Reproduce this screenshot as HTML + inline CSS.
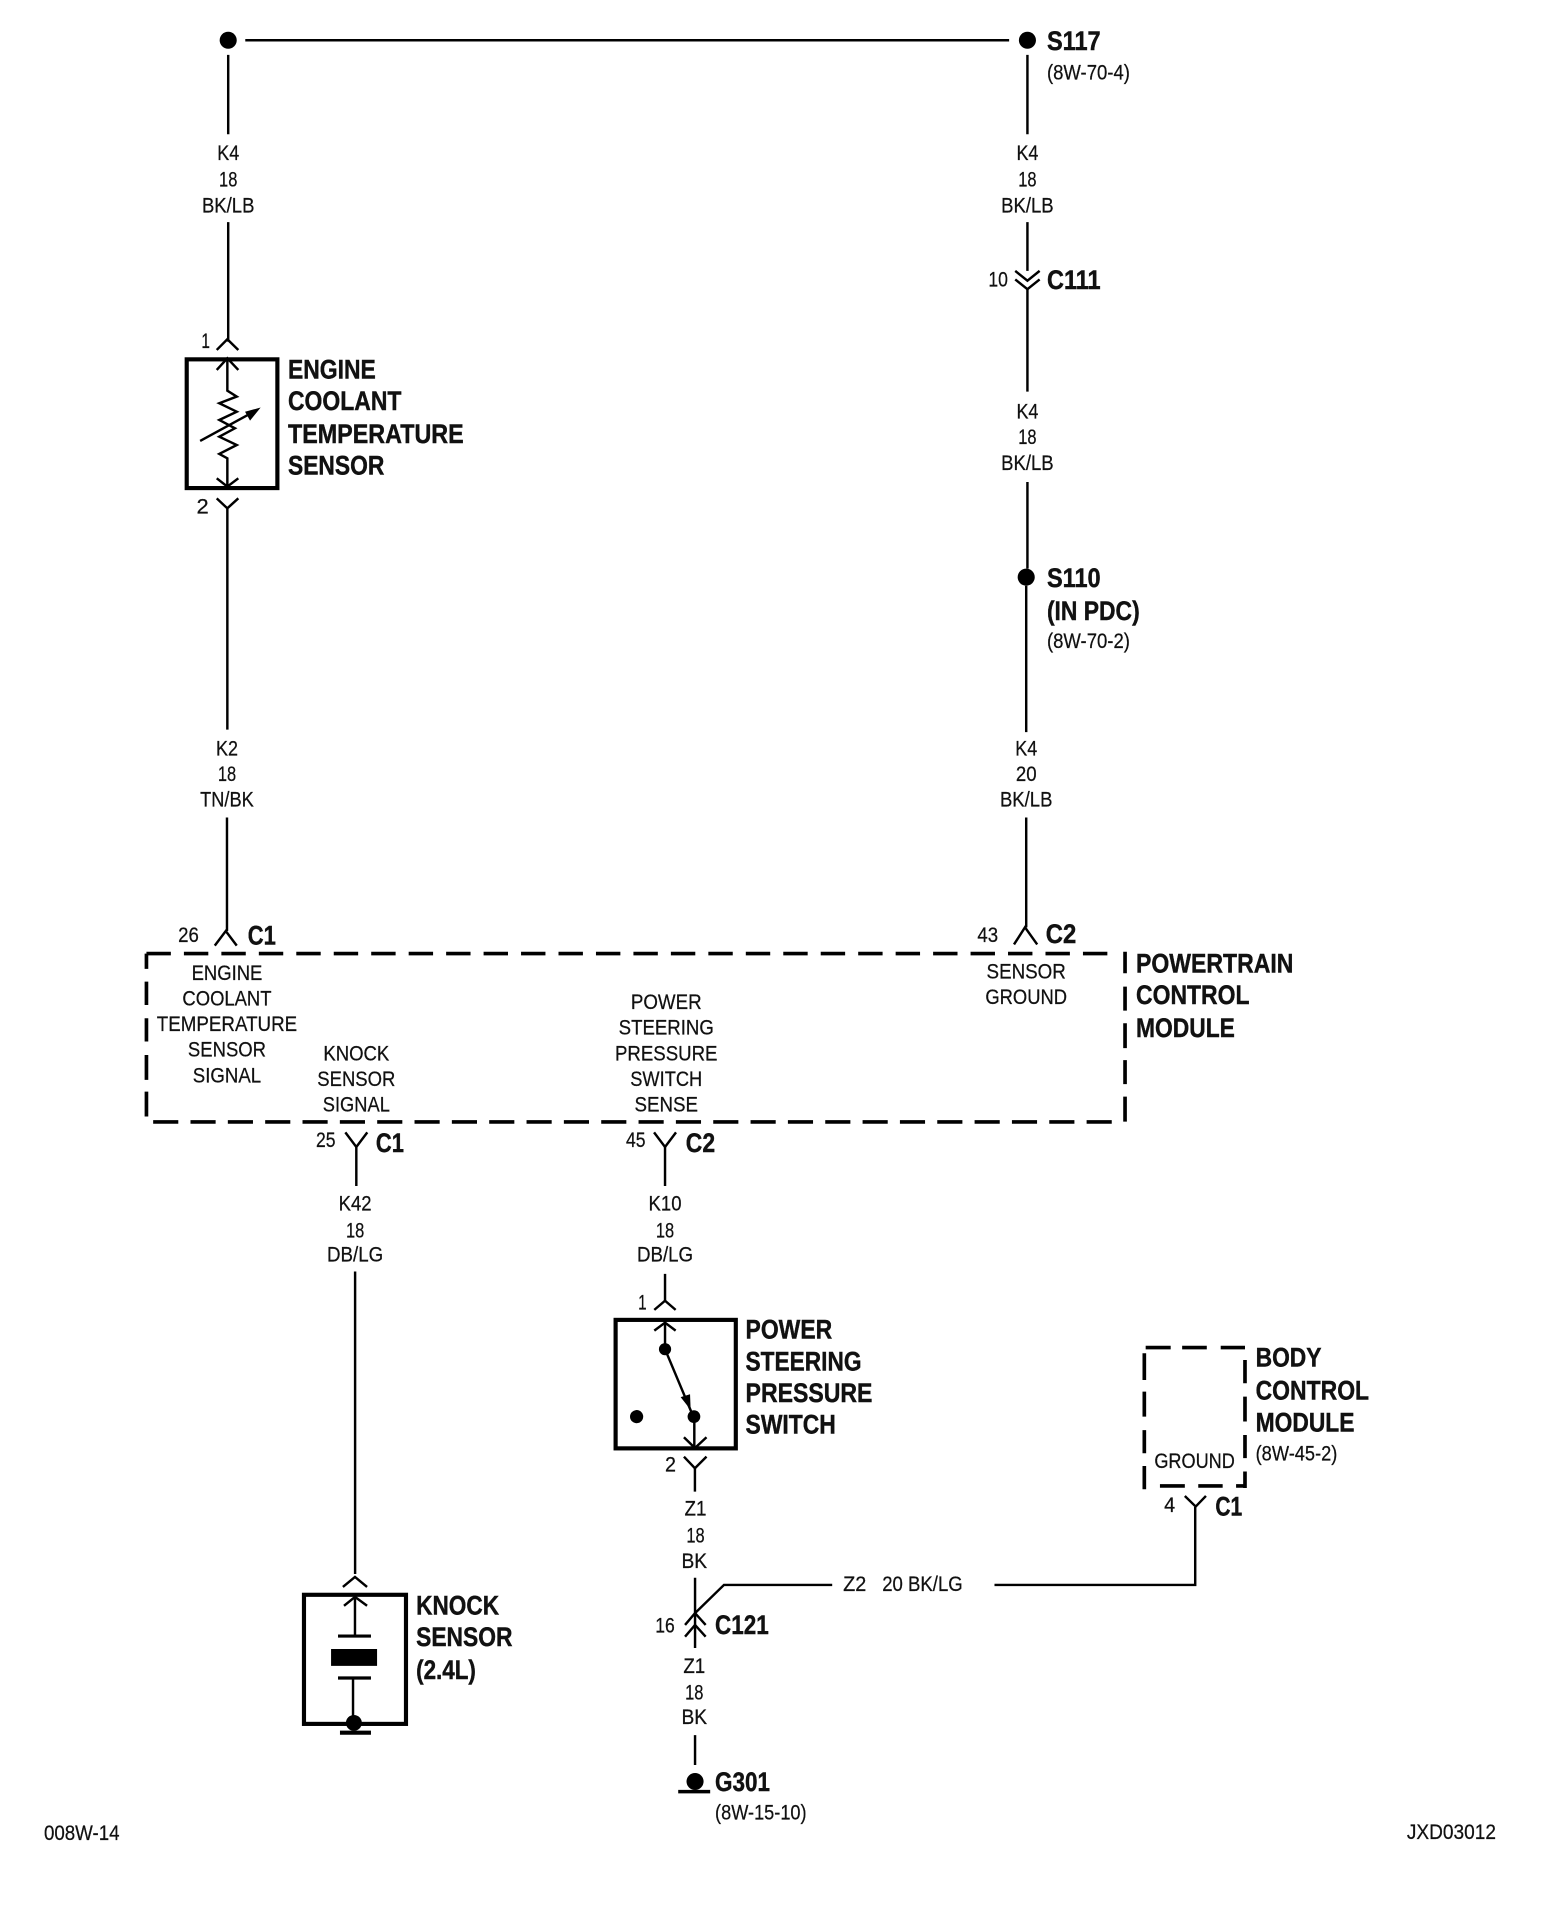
<!DOCTYPE html>
<html><head><meta charset="utf-8"><style>
html,body{margin:0;padding:0;background:#fff}
svg{display:block}
text{font-family:"Liberation Sans",sans-serif;fill:#111}
.b{font-weight:bold;font-size:22px;stroke:#111;stroke-width:.35}
.r{font-size:17.5px;stroke:#111;stroke-width:.2}
.m{text-anchor:middle}
.w{fill:none;stroke:#000;stroke-width:2}
.box{fill:none;stroke:#000;stroke-width:3.4}
.d{fill:none;stroke:#000;stroke-width:3}
</style></head><body>
<svg width="1568" height="1914" viewBox="0 0 1285 1568.6" xmlns="http://www.w3.org/2000/svg">
<rect width="1285" height="1569" fill="#fff"/>
<!-- wires -->
<path class="w" d="M201 33H827M187 45V110M187 182V280M842 45V110M842 182V222M842 237V321M842 395V466M841 480V600M841 670V760M186.3 417V598M186 670V763M292 940V972M291 1042V1290M545 940V972M545 1044V1066M569.5 1203V1222.4M569.6 1293V1350.6M569.6 1422V1446.5M979.5 1235V1298.9H815M682 1298.9H593.3L569.6 1322"/>
<g fill="#000"><circle cx="187" cy="33" r="7"/><circle cx="842" cy="33" r="7"/><circle cx="841" cy="473" r="7"/></g>
<!-- connectors -->
<path class="w" d="M832 222L842 230L852 222M832 229L842 237L852 229"/>
<path class="w" d="M177.6 286.8L186.3 278L195.3 286.8M177.6 408.4L186.3 416.6L195.3 408.4"/>
<path class="w" d="M176 775L185 763L194 775M831 774L840 760L850 774M283 928L292 940L301 928M536 928L545 940L554 928"/>
<path class="w" d="M536.2 1073.5L545 1066L553.7 1073.5M560.5 1193.8L569.5 1203.3L579 1193.8M281 1300.6L290.9 1292.4L300.8 1300.6M971 1226L979.9 1234.7L988.3 1226M561.4 1331.7L569.6 1322L578.3 1331.7M561.4 1341.3L569.6 1331.7L578.3 1341.3"/>
<!-- ECT box -->
<rect class="box" x="153" y="294.5" width="74.3" height="105.5"/>
<path class="w" d="M177.6 303.2L186.3 293.6L195.3 303.2M186.3 293.6V320.2L194 325L179.7 330.5L194 337.4L179.7 344.2L192.5 351L179.7 357.9L194 364.7L179.7 372L186.3 375.6V399M177.6 392L186.3 398.8L195.3 392"/>
<path class="w" d="M164 361.4L205 339"/><path d="M213.6 334L200.8 337.4L204.9 344.7Z" fill="#000"/>
<!-- PCM dashed -->
<path class="d" stroke-dasharray="20 10.7" d="M120 781.5H908"/>
<path class="d" stroke-dasharray="20.6 10" d="M125.5 919.5H913"/>
<path class="d" d="M120 781.5V794M120 804.5V823.6M120 834.5V853.6M120 864.6V885M120 894.6V915"/>
<path class="d" d="M922 780V797.6M922 808.6V828.2M922 838.6V859M922 868.8V888.5M922 898.7V919.2"/>
<!-- PS switch -->
<rect class="box" x="504.5" y="1081.7" width="98.5" height="105.3"/>
<path class="w" d="M536.2 1090.5L545 1084L553.7 1090.5M545 1082V1105.7L566.5 1157M569 1161V1186.7M560.5 1177.9L569.5 1186.7L579 1177.9"/>
<path d="M566 1155.5L557.8 1145L565.5 1142.6Z" fill="#000"/>
<g fill="#000"><circle cx="545" cy="1105.7" r="5"/><circle cx="568.7" cy="1161" r="5.2"/><circle cx="521.7" cy="1161" r="5.4"/></g>
<!-- knock sensor -->
<rect class="box" x="249.1" y="1307" width="83.6" height="105.8"/>
<path class="w" d="M281.9 1316L290.9 1308.7L300.8 1316M290.9 1308.7V1340M289.3 1375V1410"/>
<path d="M277 1339.5h27v2.6h-27zM271.3 1351.4h37.7v13.9h-37.7zM277 1373.9h27v2.6h-27zM278.6 1418.3h25.4v3.4h-25.4z" fill="#000"/>
<circle cx="290" cy="1412" r="6.5" fill="#000"/>
<!-- BCM dashed -->
<path class="d" d="M938.9 1104.4H959.4M968.8 1104.4H989M1000.4 1104.4H1020.3"/>
<path class="d" d="M937.8 1109V1131M937.8 1140.5V1161M937.8 1172V1191M937.8 1201.4V1220.5"/>
<path class="d" d="M1020.3 1114.6V1133.6M1020.3 1144.6V1165M1020.3 1176V1195M1020.3 1206V1219.5"/>
<path class="d" stroke-width="2.4" d="M950.6 1217.8H971M982 1217.8H1002M1013 1217.8H1020.3"/>
<!-- ground -->
<path d="M555.8 1466.9h26.2v2.8h-26.2z" fill="#000"/><circle cx="569.6" cy="1460" r="7" fill="#000"/>
<!-- bold labels -->
<g class="b">
<text x="858" y="41" textLength="44" lengthAdjust="spacingAndGlyphs">S117</text>
<text x="858" y="237" textLength="44" lengthAdjust="spacingAndGlyphs">C111</text>
<text x="858" y="481" textLength="44" lengthAdjust="spacingAndGlyphs">S110</text>
<text x="858" y="508" textLength="76" lengthAdjust="spacingAndGlyphs">(IN PDC)</text>
<text x="236" y="310" textLength="72" lengthAdjust="spacingAndGlyphs">ENGINE</text>
<text x="236" y="336" textLength="93" lengthAdjust="spacingAndGlyphs">COOLANT</text>
<text x="236" y="363" textLength="144" lengthAdjust="spacingAndGlyphs">TEMPERATURE</text>
<text x="236" y="389" textLength="79" lengthAdjust="spacingAndGlyphs">SENSOR</text>
<text x="203" y="774" textLength="23" lengthAdjust="spacingAndGlyphs">C1</text>
<text x="857" y="773" textLength="25" lengthAdjust="spacingAndGlyphs">C2</text>
<text x="931" y="797" textLength="129" lengthAdjust="spacingAndGlyphs">POWERTRAIN</text>
<text x="931" y="823" textLength="93" lengthAdjust="spacingAndGlyphs">CONTROL</text>
<text x="931" y="850" textLength="81" lengthAdjust="spacingAndGlyphs">MODULE</text>
<text x="308" y="944" textLength="23" lengthAdjust="spacingAndGlyphs">C1</text>
<text x="562" y="944" textLength="24" lengthAdjust="spacingAndGlyphs">C2</text>
<text x="611" y="1097" textLength="71" lengthAdjust="spacingAndGlyphs">POWER</text>
<text x="611" y="1123" textLength="95" lengthAdjust="spacingAndGlyphs">STEERING</text>
<text x="611" y="1149" textLength="104" lengthAdjust="spacingAndGlyphs">PRESSURE</text>
<text x="611" y="1175" textLength="74" lengthAdjust="spacingAndGlyphs">SWITCH</text>
<text x="1029" y="1120" textLength="54" lengthAdjust="spacingAndGlyphs">BODY</text>
<text x="1029" y="1147" textLength="93" lengthAdjust="spacingAndGlyphs">CONTROL</text>
<text x="1029" y="1173" textLength="81" lengthAdjust="spacingAndGlyphs">MODULE</text>
<text x="996" y="1242" textLength="22" lengthAdjust="spacingAndGlyphs">C1</text>
<text x="341" y="1323" textLength="68" lengthAdjust="spacingAndGlyphs">KNOCK</text>
<text x="341" y="1349" textLength="79" lengthAdjust="spacingAndGlyphs">SENSOR</text>
<text x="341" y="1376" textLength="49" lengthAdjust="spacingAndGlyphs">(2.4L)</text>
<text x="586" y="1339" textLength="44" lengthAdjust="spacingAndGlyphs">C121</text>
<text x="586" y="1468" textLength="45" lengthAdjust="spacingAndGlyphs">G301</text>
</g>
<!-- regular labels -->
<g class="r">
<text x="858" y="65" textLength="68" lengthAdjust="spacingAndGlyphs">(8W-70-4)</text>
<text x="858" y="531" textLength="68" lengthAdjust="spacingAndGlyphs">(8W-70-2)</text>
<text x="1029" y="1197" textLength="67" lengthAdjust="spacingAndGlyphs">(8W-45-2)</text>
<text x="586" y="1491" textLength="75" lengthAdjust="spacingAndGlyphs">(8W-15-10)</text>
<text x="36" y="1508" textLength="62" lengthAdjust="spacingAndGlyphs">008W-14</text>
<text x="1153" y="1507" textLength="73" lengthAdjust="spacingAndGlyphs">JXD03012</text>
<text x="810" y="235" textLength="16" lengthAdjust="spacingAndGlyphs">10</text>
<text x="165" y="285" textLength="7" lengthAdjust="spacingAndGlyphs">1</text>
<text x="161" y="421" textLength="10" lengthAdjust="spacingAndGlyphs">2</text>
<text x="146" y="772" textLength="17" lengthAdjust="spacingAndGlyphs">26</text>
<text x="801" y="772" textLength="17" lengthAdjust="spacingAndGlyphs">43</text>
<text x="259" y="940" textLength="16" lengthAdjust="spacingAndGlyphs">25</text>
<text x="513" y="940" textLength="16" lengthAdjust="spacingAndGlyphs">45</text>
<text x="523" y="1073" textLength="7" lengthAdjust="spacingAndGlyphs">1</text>
<text x="545" y="1206" textLength="9" lengthAdjust="spacingAndGlyphs">2</text>
<text x="954" y="1239" textLength="9" lengthAdjust="spacingAndGlyphs">4</text>
<text x="537" y="1338" textLength="16" lengthAdjust="spacingAndGlyphs">16</text>
<text x="691" y="1304" textLength="19" lengthAdjust="spacingAndGlyphs">Z2</text>
<text x="723" y="1304" textLength="66" lengthAdjust="spacingAndGlyphs">20 BK/LG</text>
<text x="946" y="1203" textLength="66" lengthAdjust="spacingAndGlyphs">GROUND</text>
</g>
<g class="r m">
<text x="187" y="131" textLength="18" lengthAdjust="spacingAndGlyphs">K4</text>
<text x="187" y="153" textLength="15" lengthAdjust="spacingAndGlyphs">18</text>
<text x="187" y="174" textLength="43" lengthAdjust="spacingAndGlyphs">BK/LB</text>
<text x="842" y="131" textLength="18" lengthAdjust="spacingAndGlyphs">K4</text>
<text x="842" y="153" textLength="15" lengthAdjust="spacingAndGlyphs">18</text>
<text x="842" y="174" textLength="43" lengthAdjust="spacingAndGlyphs">BK/LB</text>
<text x="842" y="343" textLength="18" lengthAdjust="spacingAndGlyphs">K4</text>
<text x="842" y="364" textLength="15" lengthAdjust="spacingAndGlyphs">18</text>
<text x="842" y="385" textLength="43" lengthAdjust="spacingAndGlyphs">BK/LB</text>
<text x="841" y="619" textLength="18" lengthAdjust="spacingAndGlyphs">K4</text>
<text x="841" y="640" textLength="17" lengthAdjust="spacingAndGlyphs">20</text>
<text x="841" y="661" textLength="43" lengthAdjust="spacingAndGlyphs">BK/LB</text>
<text x="186" y="619" textLength="18" lengthAdjust="spacingAndGlyphs">K2</text>
<text x="186" y="640" textLength="15" lengthAdjust="spacingAndGlyphs">18</text>
<text x="186" y="661" textLength="44" lengthAdjust="spacingAndGlyphs">TN/BK</text>
<text x="186" y="803" textLength="58" lengthAdjust="spacingAndGlyphs">ENGINE</text>
<text x="186" y="824" textLength="73" lengthAdjust="spacingAndGlyphs">COOLANT</text>
<text x="186" y="845" textLength="115" lengthAdjust="spacingAndGlyphs">TEMPERATURE</text>
<text x="186" y="866" textLength="64" lengthAdjust="spacingAndGlyphs">SENSOR</text>
<text x="186" y="887" textLength="56" lengthAdjust="spacingAndGlyphs">SIGNAL</text>
<text x="292" y="869" textLength="54" lengthAdjust="spacingAndGlyphs">KNOCK</text>
<text x="292" y="890" textLength="64" lengthAdjust="spacingAndGlyphs">SENSOR</text>
<text x="292" y="911" textLength="55" lengthAdjust="spacingAndGlyphs">SIGNAL</text>
<text x="546" y="827" textLength="58" lengthAdjust="spacingAndGlyphs">POWER</text>
<text x="546" y="848" textLength="78" lengthAdjust="spacingAndGlyphs">STEERING</text>
<text x="546" y="869" textLength="84" lengthAdjust="spacingAndGlyphs">PRESSURE</text>
<text x="546" y="890" textLength="59" lengthAdjust="spacingAndGlyphs">SWITCH</text>
<text x="546" y="911" textLength="52" lengthAdjust="spacingAndGlyphs">SENSE</text>
<text x="841" y="802" textLength="65" lengthAdjust="spacingAndGlyphs">SENSOR</text>
<text x="841" y="823" textLength="67" lengthAdjust="spacingAndGlyphs">GROUND</text>
<text x="291" y="992" textLength="27" lengthAdjust="spacingAndGlyphs">K42</text>
<text x="291" y="1014" textLength="15" lengthAdjust="spacingAndGlyphs">18</text>
<text x="291" y="1034" textLength="46" lengthAdjust="spacingAndGlyphs">DB/LG</text>
<text x="545" y="992" textLength="27" lengthAdjust="spacingAndGlyphs">K10</text>
<text x="545" y="1014" textLength="15" lengthAdjust="spacingAndGlyphs">18</text>
<text x="545" y="1034" textLength="46" lengthAdjust="spacingAndGlyphs">DB/LG</text>
<text x="570" y="1242" textLength="18" lengthAdjust="spacingAndGlyphs">Z1</text>
<text x="570" y="1264" textLength="15" lengthAdjust="spacingAndGlyphs">18</text>
<text x="569" y="1285" textLength="21" lengthAdjust="spacingAndGlyphs">BK</text>
<text x="569" y="1371" textLength="18" lengthAdjust="spacingAndGlyphs">Z1</text>
<text x="569" y="1393" textLength="15" lengthAdjust="spacingAndGlyphs">18</text>
<text x="569" y="1413" textLength="21" lengthAdjust="spacingAndGlyphs">BK</text>
</g>
</svg>
</body></html>
